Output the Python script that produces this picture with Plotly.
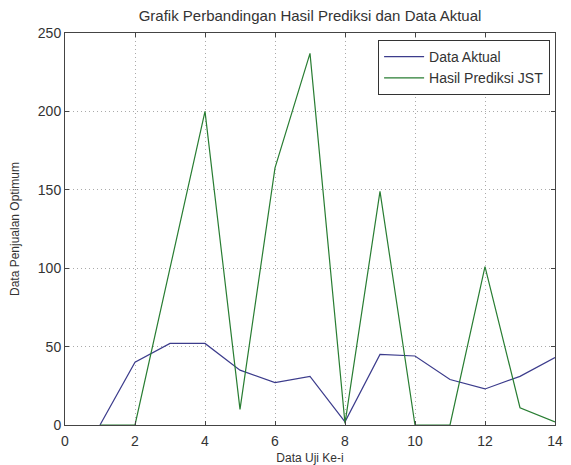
import plotly.graph_objects as go

x_vals = list(range(1, 15))
data_aktual = [0, 40, 52, 52, 35, 27, 31, 2, 45, 44, 29, 23, 31, 43]
hasil_prediksi = [0, 0, 100, 200, 10, 164, 237, 1, 149, 0, 0, 101, 11, 2]
title_text = "Grafik Perbandingan Hasil Prediksi dan Data Aktual"
x_title = "Data Uji Ke-i"
y_title = "Data Penjualan Optimum"

fig = go.Figure()
fig.add_trace(go.Scatter(x=x_vals, y=data_aktual, mode="lines", name="Data Aktual",
                         line=dict(color="rgb(60,60,140)", width=1.2)))
fig.add_trace(go.Scatter(x=x_vals, y=hasil_prediksi, mode="lines", name="Hasil Prediksi JST",
                         line=dict(color="rgb(40,125,50)", width=1.2)))

font_family = "Liberation Sans, Arial, sans-serif"
axis_common = dict(showline=True, linecolor="#444", linewidth=1, mirror="ticks",
                   ticks="inside", ticklen=4, tickcolor="#444",
                   showgrid=True, gridcolor="#aaa", griddash="1px,3px", gridwidth=1,
                   zeroline=False, ticklabeloverflow="allow", automargin=False,
                   tickfont=dict(size=14, color="#333", family=font_family))

# page body has an 8px margin, so the figure is sized/placed to compensate
fig.update_layout(
    width=563, height=457,
    margin=dict(l=57, r=16, t=25, b=40),
    paper_bgcolor="white", plot_bgcolor="white",
    title=dict(text=title_text, x=0.5, xref="paper", xanchor="center",
               yref="container", y=0.982, yanchor="middle",
               font=dict(size=15, color="#333", family=font_family)),
    xaxis=dict(range=[0, 14], dtick=2, tick0=0, ticklabelstandoff=3,
               title=dict(text=x_title, standoff=5, font=dict(size=12, color="#333", family=font_family)),
               **axis_common),
    yaxis=dict(range=[0, 250], dtick=50, tick0=0,
               title=dict(text=y_title, standoff=15, font=dict(size=12, color="#333", family=font_family)),
               **axis_common),
    legend=dict(x=0.99, y=0.982, xanchor="right", yanchor="top",
                bgcolor="white", bordercolor="#333", borderwidth=1,
                font=dict(size=14, color="#333", family=font_family),
                tracegroupgap=0, itemwidth=40),
    showlegend=True,
)

fig.write_html("out.html")
